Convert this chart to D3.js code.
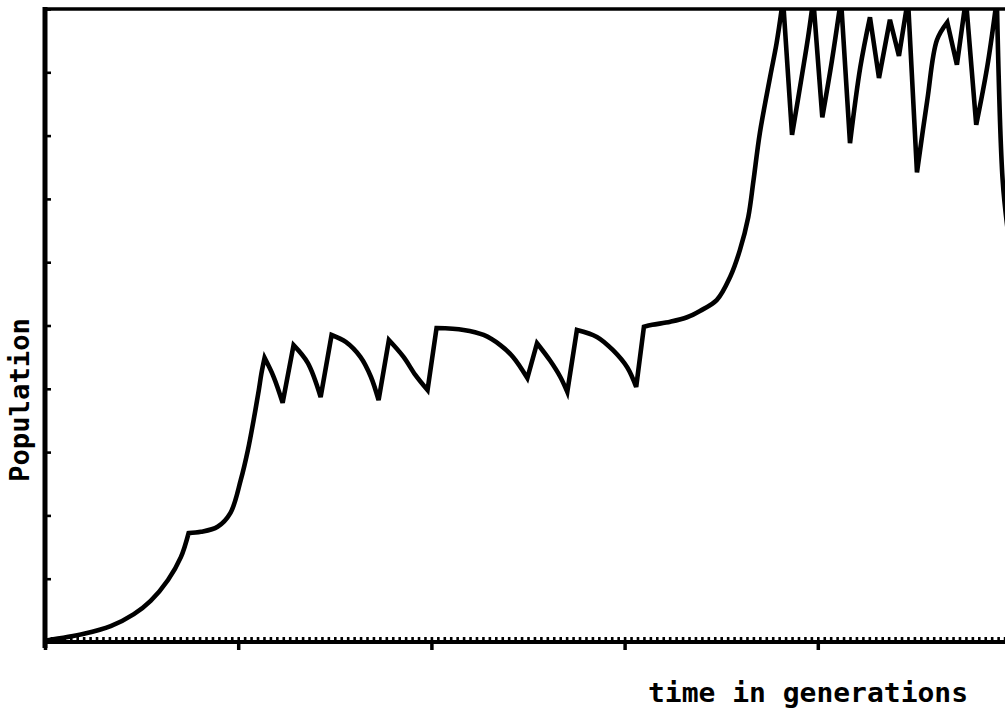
<!DOCTYPE html>
<html>
<head>
<meta charset="utf-8">
<script src="https://cdn.jsdelivr.net/npm/d3@7"></script>
<style>
  html, body { margin: 0; padding: 0; background: #fff; }
  svg { display: block; }
</style>
</head>
<body>
<svg id="chart" width="1005" height="712"></svg>
<script>
// ---- data (generation, population) ----
const generations = [0, 6.05, 10.2, 13.8, 16.4, 19.1, 21.1, 22.3, 24.2, 26.8, 28.8, 30.4, 31.5, 32.4, 33.2, 33.6, 34.1,
  35.5, 36.9, 38.6, 40.8, 42.8, 44.5, 46.7, 49.0, 50.6, 51.8, 53.4, 55.7, 57.5, 59.4, 60.8, 65.0, 68.1, 70.7,
  72.7, 74.9, 76.4, 78.4, 80.0, 81.1, 82.6, 85.7, 88.2, 90.4, 91.8, 93.0, 94.3, 97.1, 99.7, 101.7, 104.3,
  106.4, 107.9, 109.2, 110.0, 111.0, 112.6, 113.6, 114.6, 116.0, 117.6, 118.5, 119.3, 120.7, 122.2, 123.6,
  125.0, 126.6, 128.1, 129.5, 131.2, 132.6, 134.0, 135.4, 137.0, 138.5, 140.1, 141.6, 143.0, 144.6, 146.3,
  147.8, 148.7, 149.5];
const population = [0.02, 0.13, 0.25, 0.44, 0.65, 0.98, 1.34, 1.72, 1.74, 1.82, 2.04, 2.56, 3.03, 3.51, 3.98, 4.24, 4.49,
  4.19, 3.78, 4.69, 4.41, 3.87, 4.85, 4.74, 4.50, 4.19, 3.82, 4.77, 4.50, 4.22, 3.98, 4.96, 4.93, 4.85, 4.69,
  4.50, 4.17, 4.72, 4.45, 4.19, 3.95, 4.93, 4.82, 4.61, 4.34, 4.03, 4.98, 5.01, 5.06, 5.13, 5.23, 5.40,
  5.77, 6.19, 6.71, 7.28, 8.04, 8.93, 9.46, 10.15, 8.01, 8.99, 9.56, 10.15, 8.29, 9.19, 10.15,
  7.88, 9.08, 9.87, 8.91, 9.83, 9.26, 10.15, 7.42, 8.56, 9.51, 9.79, 9.12, 10.15, 8.17, 9.08,
  10.15, 7.30, 6.50];
// generations where the curve has a sharp corner that is not a peak or trough
const corners = [22.3, 93.0];
const xMajorTicks = [0, 30, 60, 90, 120, 150];
const xMinorTicks = d3.range(0, 151, 1);
const yTicks = d3.range(0, 11, 1);
const xLabel = "time in generations";
const yLabel = "Population";

// ---- layout ----
const svg = d3.select("#chart");
const mLeft = 45, mRight = 1011, mTop = 9, mBottom = 642;

const x = d3.scaleLinear().domain([0, 150]).range([mLeft, mRight]);
const y = d3.scaleLinear().domain([0, 10]).range([mBottom, mTop]);

svg.append("defs").append("clipPath").attr("id", "plotclip")
  .append("rect").attr("x", mLeft).attr("y", mTop).attr("width", mRight - mLeft).attr("height", mBottom - mTop);

// minor x ticks (pointing up, inside)
const minorAxis = svg.append("g").attr("transform", `translate(0,${mBottom})`)
  .call(d3.axisBottom(x).tickValues(xMinorTicks).tickSize(-5).tickFormat(""));
minorAxis.select(".domain").remove();
minorAxis.selectAll(".tick line").attr("stroke", "#000").attr("stroke-width", 2.6);

// major x ticks (pointing down, outside)
const majorAxis = svg.append("g").attr("transform", `translate(0,${mBottom})`)
  .call(d3.axisBottom(x).tickValues(xMajorTicks).tickSize(8).tickFormat(""));
majorAxis.select(".domain").remove();
majorAxis.selectAll(".tick line").attr("stroke", "#000").attr("stroke-width", 3.5);

// y ticks (pointing right, inside)
const yAxis = svg.append("g").attr("transform", `translate(${mLeft},0)`)
  .call(d3.axisLeft(y).tickValues(yTicks).tickSize(-6).tickFormat(""));
yAxis.select(".domain").remove();
yAxis.selectAll(".tick line").attr("stroke", "#000").attr("stroke-width", 2.6);

// frame: left, bottom, top
svg.append("line").attr("x1", mLeft).attr("x2", mLeft).attr("y1", mTop - 2).attr("y2", mBottom + 6)
  .attr("stroke", "#000").attr("stroke-width", 5);
svg.append("line").attr("x1", mLeft - 2).attr("x2", 1005).attr("y1", mBottom).attr("y2", mBottom)
  .attr("stroke", "#000").attr("stroke-width", 4);
svg.append("line").attr("x1", mLeft - 2).attr("x2", 1005).attr("y1", mTop).attr("y2", mTop)
  .attr("stroke", "#000").attr("stroke-width", 3.5);

// curve: smooth pieces between peaks/troughs/corners, joined into one path with sharp cusps
const pts = generations.map((g, i) => [g, population[i]]);
const segments = [];
let cur = [pts[0]];
for (let i = 1; i < pts.length; i++) {
  cur.push(pts[i]);
  const isLast = i === pts.length - 1;
  const extremum = !isLast && (pts[i][1] - pts[i - 1][1]) * (pts[i + 1][1] - pts[i][1]) < 0;
  const corner = corners.includes(pts[i][0]);
  if (!isLast && (extremum || corner)) {
    segments.push(cur);
    cur = [pts[i]];
  }
}
segments.push(cur);
const smooth = d3.line().x(d => x(d[0])).y(d => y(d[1])).curve(d3.curveCatmullRom.alpha(0.5));
let dStr = "";
segments.forEach((seg, k) => {
  const s = smooth(seg);
  dStr += k === 0 ? s : s.replace(/^M[^A-Za-z]*/, "");
});
svg.append("path")
  .attr("clip-path", "url(#plotclip)")
  .attr("d", dStr)
  .attr("fill", "none").attr("stroke", "#000").attr("stroke-width", 4.6)
  .attr("stroke-linejoin", "miter").attr("stroke-miterlimit", 4);

// labels
svg.append("text")
  .attr("x", 648).attr("y", 702)
  .attr("textLength", 320).attr("lengthAdjust", "spacingAndGlyphs")
  .attr("font-family", "'DejaVu Sans Mono', monospace").attr("font-weight", "bold")
  .attr("font-size", 27).attr("fill", "#000")
  .text(xLabel);

svg.append("text")
  .attr("transform", "translate(29,482) rotate(-90)")
  .attr("textLength", 164).attr("lengthAdjust", "spacingAndGlyphs")
  .attr("font-family", "'DejaVu Sans Mono', monospace").attr("font-weight", "bold")
  .attr("font-size", 27).attr("fill", "#000")
  .text(yLabel);
</script>
</body>
</html>
